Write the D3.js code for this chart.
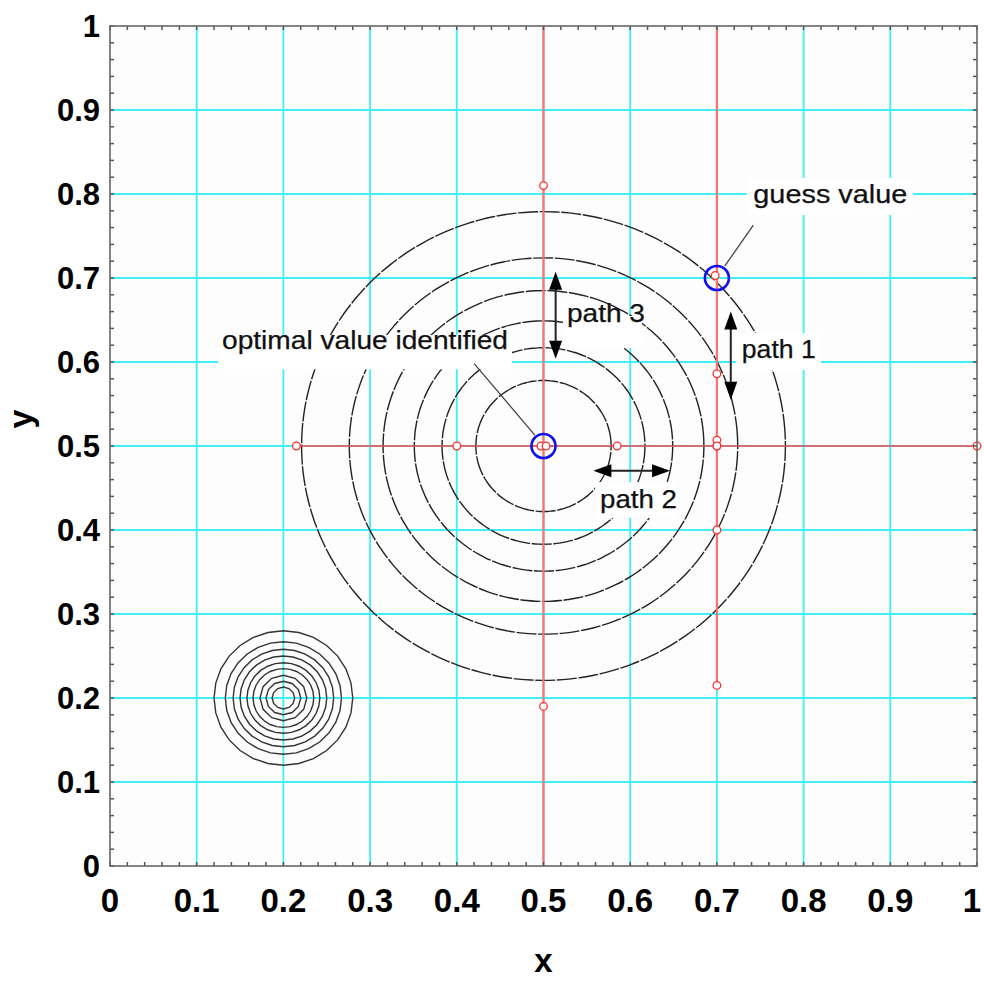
<!DOCTYPE html>
<html>
<head>
<meta charset="utf-8">
<script src="https://cdn.jsdelivr.net/npm/d3@7"></script>
<style>
  html, body { margin: 0; padding: 0; background: #ffffff; }
  svg { display: block; }
  text { font-family: "Liberation Sans", Arial, sans-serif; }
</style>
</head>
<body>
<div id="chart"></div>
<script>
// ---- data ----
const tickValues = [0, 0.1, 0.2, 0.3, 0.4, 0.5, 0.6, 0.7, 0.8, 0.9, 1];
const tickLabels = ["0", "0.1", "0.2", "0.3", "0.4", "0.5", "0.6", "0.7", "0.8", "0.9", "1"];
const minorStep = 0.02;

// main objective peak: contour radii around its centre
const mainCentre = [0.5, 0.5];
const mainRadii = [0.078, 0.117, 0.149, 0.185, 0.224, 0.279];

// secondary (local) peak
const localCentre = [0.2, 0.2];
const localRadii = [0.080, 0.067, 0.058, 0.050, 0.042, 0.035, 0.027, 0.020, 0.013];

// search lines
const searchH = [{ y: 0.5, x0: 0.215, x1: 1.0 }];
const searchV = [{ x: 0.5, y0: 0.0, y1: 1.0 }, { x: 0.7, y0: 0.215, y1: 1.0 }];

// evaluated points along the search lines
const evalX = [0.215, 0.4, 0.497, 0.503, 0.585, 0.7, 1.0, 0.5, 0.5, 0.7, 0.7, 0.7, 0.7, 0.7, 0.698];
const evalY = [0.5, 0.5, 0.5, 0.5, 0.5, 0.5, 0.5, 0.81, 0.19, 0.586, 0.507, 0.4, 0.215, 0.5, 0.703];

// highlighted points: optimum and starting guess
const markX = [0.5, 0.7];
const markY = [0.5, 0.7];

// direction arrows
const arrows = [
  { name: "path 1", x0: 0.716, y0: 0.66, x1: 0.716, y1: 0.555 },
  { name: "path 2", x0: 0.5575, y0: 0.4706, x1: 0.646, y1: 0.4706 },
  { name: "path 3", x0: 0.514, y0: 0.7075, x1: 0.514, y1: 0.604 }
];

// annotation texts
const notes = [
  { text: "optimal value identified", x: 0.1292, y: 0.6155, w: 286, box: [0.1246, 0.6322, 0.4637, 0.5912] },
  { text: "path 3", x: 0.5271, y: 0.6476, w: 78, box: [0.5225, 0.6548, 0.6136, 0.6167] },
  { text: "path 1", x: 0.7287, y: 0.6051, w: 74, box: [0.7220, 0.6345, 0.8200, 0.5905] },
  { text: "path 2", x: 0.5652, y: 0.4258, w: 77, box: [0.5595, 0.4571, 0.6540, 0.4143] },
  { text: "guess value", x: 0.7420, y: 0.7890, w: 154, box: [0.7343, 0.8190, 0.9263, 0.7750] }
];

// leader lines from notes to points
const leaders = [
  { x0: 0.42, y0: 0.598, x1: 0.49, y1: 0.513 },
  { x0: 0.742, y0: 0.763, x1: 0.709, y1: 0.714 }
];

// ---- layout ----
const W = 984, H = 981;
const margin = { left: 110, top: 26, right: 7, bottom: 115 };
const pw = W - margin.left - margin.right;   // 867
const ph = H - margin.top - margin.bottom;   // 840

const svg = d3.select("#chart").append("svg")
  .attr("width", W).attr("height", H);

svg.append("rect").attr("width", W).attr("height", H).attr("fill", "#ffffff");

const x = d3.scaleLinear().domain([0, 1]).range([margin.left, margin.left + pw]);
const y = d3.scaleLinear().domain([0, 1]).range([margin.top + ph, margin.top]);

const g = svg.append("g");

// plot background
g.append("rect")
  .attr("x", x(0)).attr("y", y(1))
  .attr("width", x(1) - x(0)).attr("height", y(0) - y(1))
  .attr("fill", "#fdfdfd");

// cyan grid
const inner = tickValues.filter(v => v > 0 && v < 1);
g.append("g").selectAll("line.gx").data(inner).join("line")
  .attr("x1", d => x(d)).attr("x2", d => x(d))
  .attr("y1", y(0)).attr("y2", y(1))
  .attr("stroke", "#3ef0f6").attr("stroke-width", 1.8);
g.append("g").selectAll("line.gy").data(inner).join("line")
  .attr("y1", d => y(d)).attr("y2", d => y(d))
  .attr("x1", x(0)).attr("x2", x(1))
  .attr("stroke", "#3ef0f6").attr("stroke-width", 1.8);

// contour rings
function ring(cx, cy, r, n) {
  const pts = d3.range(n).map(i => {
    const a = 2 * Math.PI * i / n;
    return [x(cx + r * Math.cos(a)), y(cy + r * Math.sin(a))];
  });
  return d3.line().curve(n > 60 ? d3.curveCardinalClosed : d3.curveLinearClosed)(pts);
}

g.append("g").selectAll("path").data(mainRadii).join("path")
  .attr("d", r => ring(mainCentre[0], mainCentre[1], r, 120))
  .attr("fill", "none").attr("stroke", "#222")
  .attr("stroke-width", 1.4).attr("stroke-dasharray", "20 1.6");

g.append("g").selectAll("path").data(localRadii).join("path")
  .attr("d", r => ring(localCentre[0], localCentre[1], r, r > 0.03 ? 28 : 12))
  .attr("fill", "none").attr("stroke", "#333")
  .attr("stroke-width", 1.4);

// search lines
g.append("g").selectAll("line").data(searchV).join("line")
  .attr("x1", d => x(d.x)).attr("x2", d => x(d.x))
  .attr("y1", d => y(d.y0)).attr("y2", d => y(d.y1))
  .attr("stroke", "#ff7070").attr("stroke-width", 2.2);
g.append("g").selectAll("line").data(searchH).join("line")
  .attr("x1", d => x(d.x0)).attr("x2", d => x(d.x1))
  .attr("y1", d => y(d.y)).attr("y2", d => y(d.y))
  .attr("stroke", "#ff4a4a").attr("stroke-width", 1.4);

// evaluated points
g.append("g").selectAll("circle").data(evalX).join("circle")
  .attr("cx", (d, i) => x(d)).attr("cy", (d, i) => y(evalY[i]))
  .attr("r", 3.8)
  .attr("fill", "#ffffff").attr("stroke", "#ff3030").attr("stroke-width", 1.3);

// highlighted points
g.append("g").selectAll("circle").data(markX).join("circle")
  .attr("cx", d => x(d)).attr("cy", (d, i) => y(markY[i]))
  .attr("r", 12)
  .attr("fill", "none").attr("stroke", "#1010ee").attr("stroke-width", 2.6);

// frame + minor ticks on all sides
const minors = d3.range(0, 1 + 1e-9, minorStep);
const tl = 4;
const tickG = g.append("g").attr("stroke", "#555").attr("stroke-width", 1.5);
tickG.selectAll("line.b").data(minors).join("line")
  .attr("x1", d => x(d)).attr("x2", d => x(d)).attr("y1", y(0)).attr("y2", y(0) - tl);
tickG.selectAll("line.t").data(minors).join("line")
  .attr("x1", d => x(d)).attr("x2", d => x(d)).attr("y1", y(1)).attr("y2", y(1) + tl);
tickG.selectAll("line.l").data(minors).join("line")
  .attr("y1", d => y(d)).attr("y2", d => y(d)).attr("x1", x(0)).attr("x2", x(0) + tl);
tickG.selectAll("line.r").data(minors).join("line")
  .attr("y1", d => y(d)).attr("y2", d => y(d)).attr("x1", x(1)).attr("x2", x(1) - tl);

g.append("rect")
  .attr("x", x(0)).attr("y", y(1))
  .attr("width", x(1) - x(0)).attr("height", y(0) - y(1))
  .attr("fill", "none").attr("stroke", "#666").attr("stroke-width", 1.6);

// annotation boxes and texts
const noteG = g.append("g");
noteG.selectAll("rect").data(notes).join("rect")
  .attr("x", d => x(d.box[0])).attr("y", d => y(d.box[1]))
  .attr("width", d => x(d.box[2]) - x(d.box[0]))
  .attr("height", d => y(d.box[3]) - y(d.box[1]))
  .attr("fill", "#ffffff");
noteG.selectAll("text").data(notes).join("text")
  .attr("x", d => x(d.x)).attr("y", d => y(d.y))
  .attr("font-size", 25)
  .attr("fill", "#111")
  .attr("stroke", "#111").attr("stroke-width", 0.25)
  .attr("textLength", d => d.w)
  .attr("lengthAdjust", "spacingAndGlyphs")
  .text(d => d.text);

// leader lines
g.append("g").selectAll("line").data(leaders).join("line")
  .attr("x1", d => x(d.x0)).attr("y1", d => y(d.y0))
  .attr("x2", d => x(d.x1)).attr("y2", d => y(d.y1))
  .attr("stroke", "#444").attr("stroke-width", 1.3);

// double-headed arrows
const headLen = 18, headHalf = 6.5;
const arrowG = g.append("g");
arrows.forEach(a => {
  const X0 = x(a.x0), Y0 = y(a.y0), X1 = x(a.x1), Y1 = y(a.y1);
  const L = Math.hypot(X1 - X0, Y1 - Y0);
  const ux = (X1 - X0) / L, uy = (Y1 - Y0) / L;
  const nx = -uy, ny = ux;
  arrowG.append("line")
    .attr("x1", X0 + ux * headLen * 0.8).attr("y1", Y0 + uy * headLen * 0.8)
    .attr("x2", X1 - ux * headLen * 0.8).attr("y2", Y1 - uy * headLen * 0.8)
    .attr("stroke", "#222").attr("stroke-width", 2);
  const head = (tx, ty, dx, dy) => {
    const bx = tx - dx * headLen, by = ty - dy * headLen;
    return `M${tx},${ty}L${bx + nx * headHalf},${by + ny * headHalf}L${bx - nx * headHalf},${by - ny * headHalf}Z`;
  };
  arrowG.append("path").attr("d", head(X1, Y1, ux, uy)).attr("fill", "#000");
  arrowG.append("path").attr("d", head(X0, Y0, -ux, -uy)).attr("fill", "#000");
});

// tick labels
g.append("g").selectAll("text").data(tickValues).join("text")
  .attr("x", d => Math.min(x(d), W - 12)).attr("y", 912)
  .attr("text-anchor", "middle")
  .attr("font-size", 33).attr("font-weight", "bold").attr("fill", "#000")
  .text((d, i) => tickLabels[i]);
g.append("g").selectAll("text").data(tickValues).join("text")
  .attr("x", 100).attr("y", d => y(d) + 11)
  .attr("text-anchor", "end")
  .attr("font-size", 31).attr("font-weight", "bold").attr("fill", "#000")
  .text((d, i) => tickLabels[i]);

// axis titles
svg.append("text")
  .attr("x", x(0.5)).attr("y", 972)
  .attr("text-anchor", "middle")
  .attr("font-size", 33).attr("font-weight", "bold")
  .text("x");
svg.append("text")
  .attr("transform", "translate(32,419) rotate(-90)")
  .attr("text-anchor", "middle")
  .attr("font-size", 34).attr("font-weight", "bold")
  .text("y");
</script>
</body>
</html>
